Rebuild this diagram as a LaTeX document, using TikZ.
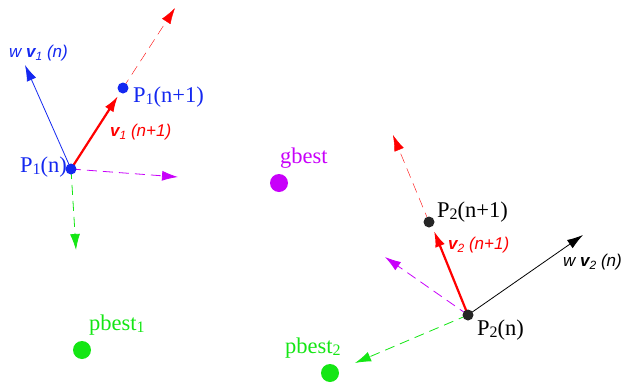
\documentclass[tikz,border=0pt]{standalone}
\usepackage{fontspec}
\setmainfont{Liberation Serif}
\newfontfamily\lsans{Liberation Sans}
\usetikzlibrary{arrows.meta}
\definecolor{pblue}{RGB}{20,40,240}
\definecolor{pgreen}{RGB}{20,230,20}
\definecolor{pmag}{RGB}{200,0,250}
\definecolor{pred}{RGB}{255,0,0}
\tikzset{
  dot/.style={circle,inner sep=0pt,minimum size=#1},
  tip/.style={-{Latex[length=16pt,width=10pt]}},
  dsh/.style={dash pattern=on 10pt off 6pt},
  plabel/.style={inner sep=0pt,font=\fontsize{22.5}{24}\selectfont},
  vlabel/.style={inner sep=0pt,font=\lsans\itshape\fontsize{17}{19}\selectfont},
}
\newcommand{\psub}[1]{\raisebox{-0.25ex}{\fontsize{16}{18}\selectfont #1}}
\newcommand{\vsub}[1]{\raisebox{-0.3ex}{\fontsize{12}{14}\selectfont #1}}
\begin{document}
\begin{tikzpicture}[x=1pt,y=-1pt]
\useasboundingbox (0,0) rectangle (625,386);
% positions
\coordinate (c1) at (71,169);
\coordinate (c1n) at (123,88);
\coordinate (c2) at (468,315);
\coordinate (c2n) at (429,222);
% tips
\coordinate (t1r) at (118,96);
\coordinate (t1rd) at (175,8);
\coordinate (t1b) at (25,65);
\coordinate (t1m) at (178,177);
\coordinate (t1g) at (76,250);
\coordinate (t2r) at (434,231);
\coordinate (t2rd) at (393,135);
\coordinate (t2k) at (583,235);
\coordinate (t2m) at (385,257);
\coordinate (t2g) at (355,363);
% particle 1 vectors
\draw[pred,dsh,tip] (c1n) -- (t1rd);
\draw[pblue,line width=0.8pt,tip] (c1) -- (t1b);
\draw[pmag,dsh,line width=0.8pt,tip] (c1) -- (t1m);
\draw[pgreen,dsh,line width=0.8pt,tip] (c1) -- (t1g);
\draw[pred,line width=2.2pt,tip] (c1) -- (t1r);
% particle 2 vectors
\draw[pred,dsh,tip] (c2n) -- (t2rd);
\draw[black,line width=0.8pt,tip] (c2) -- (t2k);
\draw[pmag,dsh,line width=0.8pt,tip] (c2) -- (t2m);
\draw[pgreen,dsh,line width=0.8pt,tip] (c2) -- (t2g);
\draw[pred,line width=2.2pt,tip] (c2) -- (t2r);
% dots
\node[dot=11pt,fill=pblue] (p1) at (c1) {};
\node[dot=11pt,fill=pblue] (p1n) at (c1n) {};
\node[dot=11pt,fill=black!85] (p2) at (c2) {};
\node[dot=11pt,fill=black!85] (p2n) at (c2n) {};
\node[dot=18pt,fill=pmag] (g) at (279,183) {};
\node[dot=18pt,fill=pgreen] (pb1) at (82,350) {};
\node[dot=18pt,fill=pgreen] (pb2) at (330,373) {};
% labels
\node[vlabel,pblue,anchor=west] (lw1) at (9,53) {w \textbf{v}\vsub{1} (n)};
\node[plabel,pblue,anchor=west] (lp1n) at (133,97) {P\psub{1}(n+1)};
\node[vlabel,pred,anchor=west] (lv1) at (110,132) {\textbf{v}\vsub{1} (n+1)};
\node[plabel,pblue,anchor=east] (lp1) at (67,167) {P\psub{1}(n)};
\node[plabel,pmag,anchor=west] (lg) at (280,158) {gbest};
\node[plabel,pgreen,anchor=west] (lpb1) at (89,325) {pbest\psub{1}};
\node[plabel,black,anchor=west] (lp2n) at (437,212) {P\psub{2}(n+1)};
\node[vlabel,pred,anchor=west] (lv2) at (448,245) {\textbf{v}\vsub{2} (n+1)};
\node[vlabel,black,anchor=west] (lw2) at (563,262) {w \textbf{v}\vsub{2} (n)};
\node[plabel,black,anchor=west] (lp2) at (477,330) {P\psub{2}(n)};
\node[plabel,pgreen,anchor=west] (lpb2) at (285,348) {pbest\psub{2}};
\end{tikzpicture}
\end{document}
